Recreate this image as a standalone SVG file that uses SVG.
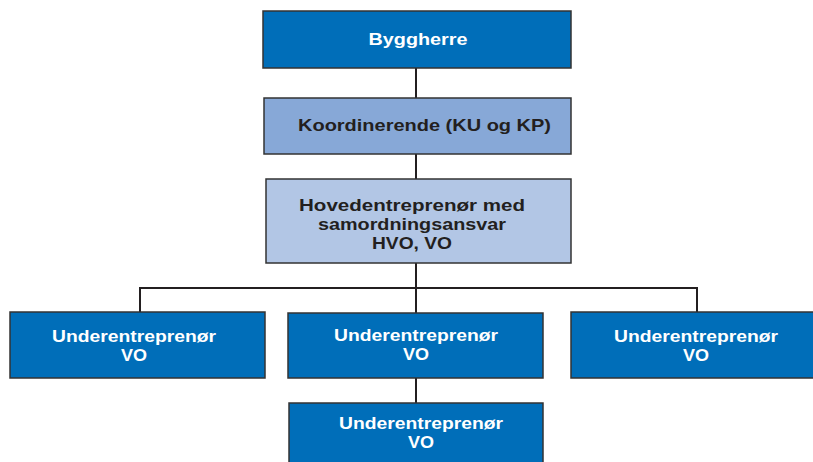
<svg xmlns="http://www.w3.org/2000/svg" width="813" height="462" viewBox="0 0 813 462">
<style>
.box{stroke:#333;stroke-width:1.5}
.dark{fill:#006EB9}
.mid{fill:#87A8D7}
.light{fill:#B2C6E5}
.t{font-family:"Liberation Sans",Arial,sans-serif;font-weight:bold;font-size:16.5px;text-anchor:middle}
.w{fill:#fff}
.k{fill:#231F20}
.c{stroke:#231F20;stroke-width:2;fill:none}
</style>
<g id="connectors">
<line class="c" x1="416" y1="68" x2="416" y2="98"/>
<line class="c" x1="416" y1="154" x2="416" y2="179"/>
<line class="c" x1="416" y1="263" x2="416" y2="313"/>
<polyline class="c" points="140,312 140,288 697,288 697,312"/>
<line class="c" x1="416" y1="378" x2="416" y2="403"/>
</g>
<g id="byggherre">
<rect class="box dark" x="263" y="11" width="308" height="57"/>
<text class="t w" x="418" y="45" textLength="99" lengthAdjust="spacingAndGlyphs">Byggherre</text>
</g>
<g id="koordinerende">
<rect class="box mid" x="264" y="98" width="307" height="56"/>
<text class="t k" x="424.5" y="131" textLength="253" lengthAdjust="spacingAndGlyphs">Koordinerende (KU og KP)</text>
</g>
<g id="hovedentreprenor">
<rect class="box light" x="266" y="179" width="305" height="84"/>
<text class="t k" x="412" y="211" textLength="226" lengthAdjust="spacingAndGlyphs">Hovedentreprenør med</text>
<text class="t k" x="412" y="230" textLength="188" lengthAdjust="spacingAndGlyphs">samordningsansvar</text>
<text class="t k" x="412" y="249" textLength="80" lengthAdjust="spacingAndGlyphs">HVO, VO</text>
</g>
<g id="under1">
<rect class="box dark" x="10" y="312" width="255" height="66"/>
<text class="t w" x="134" y="342" textLength="164" lengthAdjust="spacingAndGlyphs">Underentreprenør</text>
<text class="t w" x="134" y="361" textLength="26" lengthAdjust="spacingAndGlyphs">VO</text>
</g>
<g id="under2">
<rect class="box dark" x="288" y="313" width="255" height="65"/>
<text class="t w" x="416" y="341" textLength="164" lengthAdjust="spacingAndGlyphs">Underentreprenør</text>
<text class="t w" x="416" y="360" textLength="26" lengthAdjust="spacingAndGlyphs">VO</text>
</g>
<g id="under3">
<rect class="box dark" x="571" y="312" width="245" height="66"/>
<text class="t w" x="696" y="342" textLength="164" lengthAdjust="spacingAndGlyphs">Underentreprenør</text>
<text class="t w" x="696" y="361" textLength="26" lengthAdjust="spacingAndGlyphs">VO</text>
</g>
<g id="under4">
<rect class="box dark" x="289" y="403" width="254" height="70"/>
<text class="t w" x="421" y="429" textLength="164" lengthAdjust="spacingAndGlyphs">Underentreprenør</text>
<text class="t w" x="421" y="448" textLength="26" lengthAdjust="spacingAndGlyphs">VO</text>
</g>
</svg>
